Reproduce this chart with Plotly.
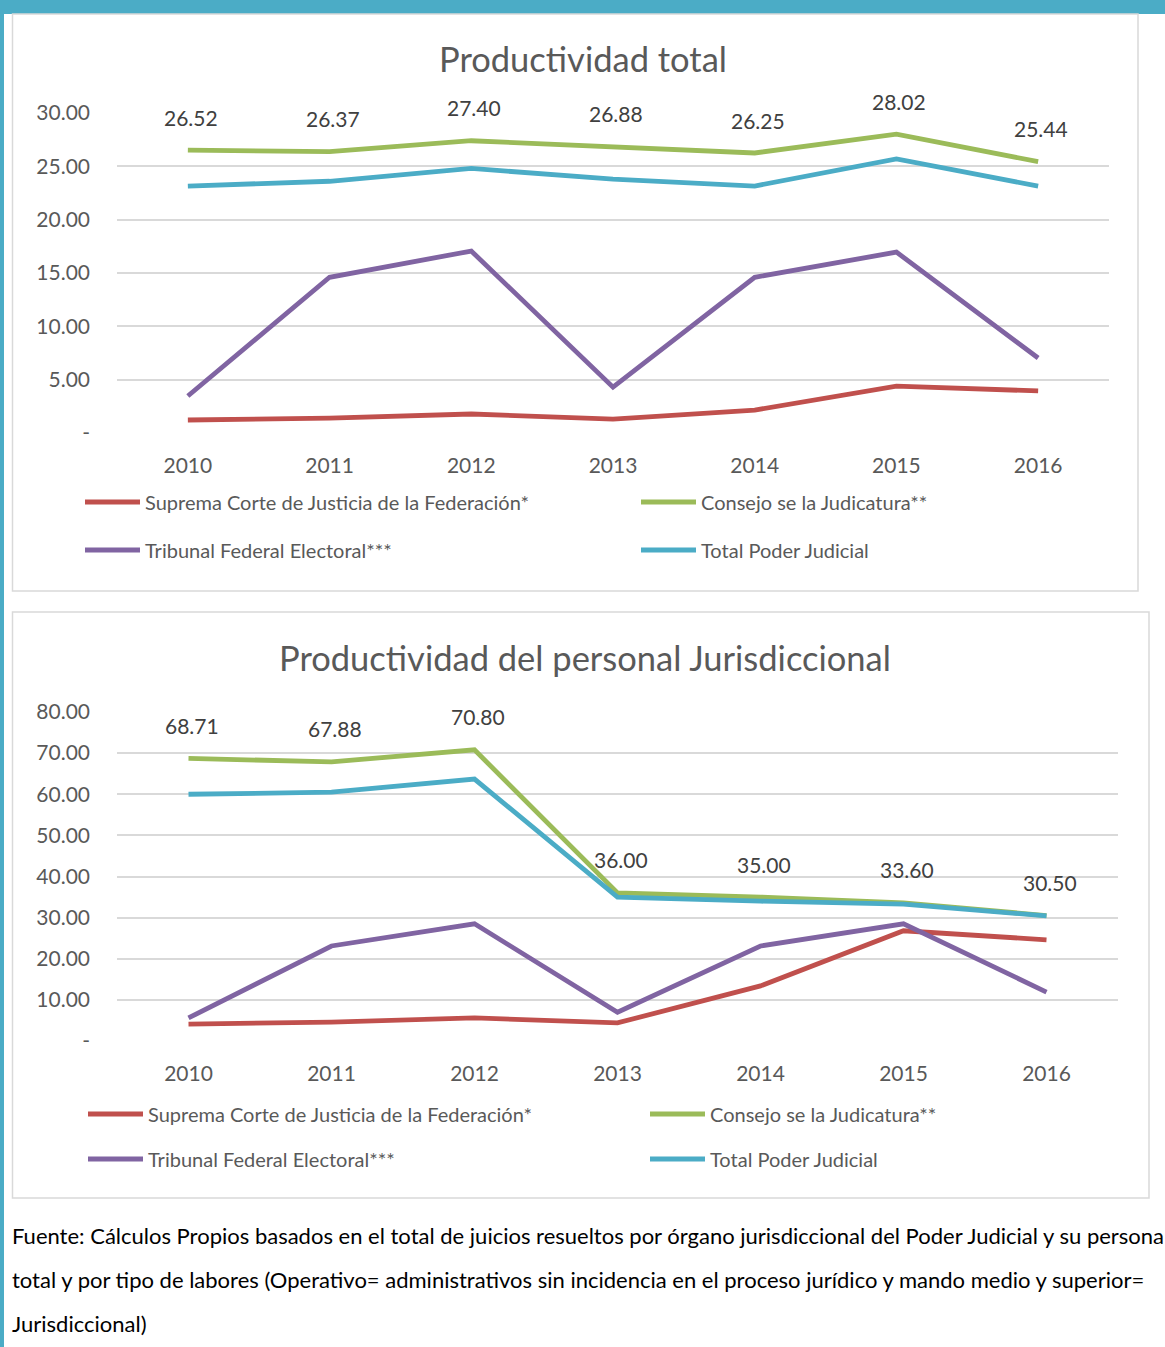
import plotly.graph_objects as go

W, H = 1165, 1347

years = [2010, 2011, 2012, 2013, 2014, 2015, 2016]
series_names = ["Suprema Corte de Justicia de la Federación*",
                "Consejo se la Judicatura**",
                "Tribunal Federal Electoral***",
                "Total Poder Judicial"]
colors = ["#C0504D", "#9BBB59", "#8064A2", "#4BACC6"]

# Chart 1: Productividad total
total_suprema = [1.22, 1.40, 1.78, 1.30, 2.15, 4.40, 3.94]
total_consejo = [26.52, 26.37, 27.40, 26.88, 26.25, 28.02, 25.44]
total_tribunal = [3.47, 14.60, 17.06, 4.30, 14.60, 16.96, 7.03]
total_poder = [23.15, 23.60, 24.80, 23.80, 23.15, 25.70, 23.15]

# Chart 2: Productividad del personal Jurisdiccional
jur_suprema = [4.1, 4.6, 5.6, 4.4, 13.4, 26.8, 24.6]
jur_consejo = [68.71, 67.88, 70.80, 36.00, 35.00, 33.60, 30.50]
jur_tribunal = [5.6, 23.1, 28.5, 7.0, 23.1, 28.5, 11.9]
jur_poder = [60.0, 60.5, 63.7, 35.0, 34.0, 33.3, 30.4]

y1_ticks = [0, 5, 10, 15, 20, 25, 30]
y1_text = ["-", "5.00", "10.00", "15.00", "20.00", "25.00", "30.00"]
y2_ticks = [0, 10, 20, 30, 40, 50, 60, 70, 80]
y2_text = ["-", "10.00", "20.00", "30.00", "40.00", "50.00", "60.00", "70.00", "80.00"]

title1 = "Productividad total"
title2 = "Productividad del personal Jurisdiccional"
source_lines = [
    "Fuente: Cálculos Propios basados en el total de juicios resueltos por órgano jurisdiccional del Poder Judicial y su persona",
    "total y por tipo de labores (Operativo= administrativos sin incidencia en el proceso jurídico y mando medio y superior=",
    "Jurisdiccional)",
]

FONT = "Lato, 'Open Sans', sans-serif"
GREY = "#595959"

def px_x(p):
    return p / W

def px_y(p):
    return 1 - p / H

fig = go.Figure()

chart1 = [total_suprema, total_consejo, total_tribunal, total_poder]
chart2 = [jur_suprema, jur_consejo, jur_tribunal, jur_poder]

# legend positions (legend-left px, row-center px)
leg1_pos = [(80, 502), (636, 502), (80, 550), (636, 550)]
leg2_pos = [(83, 1114), (645, 1114), (83, 1159), (645, 1159)]
LEG_FONT = dict(family=FONT, size=20, color=GREY)

layout_legends = {}
for i, (name, col, vals) in enumerate(zip(series_names, colors, chart1)):
    lname = "legend" if i == 0 else f"legend{i+1}"
    fig.add_trace(go.Scatter(x=years, y=vals, mode="lines", name=name,
                             line=dict(color=col, width=4.8),
                             xaxis="x", yaxis="y", legend=lname, hoverinfo="skip"))
    lx, ly = leg1_pos[i]
    layout_legends[lname] = dict(x=px_x(lx), y=px_y(ly), xanchor="left", yanchor="middle",
                                 bgcolor="rgba(0,0,0,0)", font=LEG_FONT, itemwidth=55)
for i, (name, col, vals) in enumerate(zip(series_names, colors, chart2)):
    lname = f"legend{i+5}"
    fig.add_trace(go.Scatter(x=years, y=vals, mode="lines", name=name,
                             line=dict(color=col, width=4.8),
                             xaxis="x2", yaxis="y2", legend=lname, hoverinfo="skip"))
    lx, ly = leg2_pos[i]
    layout_legends[lname] = dict(x=px_x(lx), y=px_y(ly), xanchor="left", yanchor="middle",
                                 bgcolor="rgba(0,0,0,0)", font=LEG_FONT, itemwidth=55)

LABEL_FONT = dict(family=FONT, size=21, color="#404040")
annotations = []
# data labels on Consejo series
for xv, yv in zip(years, total_consejo):
    annotations.append(dict(x=xv, y=yv, xref="x", yref="y", text=f"{yv:.2f}", showarrow=False,
                            yshift=33, xshift=3, font=LABEL_FONT))
for xv, yv in zip(years, jur_consejo):
    annotations.append(dict(x=xv, y=yv, xref="x2", yref="y2", text=f"{yv:.2f}", showarrow=False,
                            yshift=33, xshift=3, font=LABEL_FONT))
# titles
annotations.append(dict(x=px_x(583), y=px_y(58), xref="paper", yref="paper", text=title1,
                        showarrow=False, xanchor="center", yanchor="middle",
                        font=dict(family=FONT, size=34.5, color=GREY)))
annotations.append(dict(x=px_x(585), y=px_y(657), xref="paper", yref="paper", text=title2,
                        showarrow=False, xanchor="center", yanchor="middle",
                        font=dict(family=FONT, size=34.5, color=GREY)))
# source text
for line, ypx in zip(source_lines, [1235, 1279, 1323]):
    annotations.append(dict(x=px_x(10), y=px_y(ypx), xref="paper", yref="paper", text=line,
                            showarrow=False, xanchor="left", yanchor="middle",
                            font=dict(family=FONT, size=22, color="#000000")))

shapes = [
    # blue top bar and left edge
    dict(type="rect", xref="paper", yref="paper", x0=0, x1=1, y0=px_y(14), y1=1,
         fillcolor="#4BACC6", line=dict(width=0), layer="below"),
    dict(type="rect", xref="paper", yref="paper", x0=0, x1=px_x(4), y0=0, y1=1,
         fillcolor="#4BACC6", line=dict(width=0), layer="below"),
    # panel borders
    dict(type="rect", xref="paper", yref="paper", x0=px_x(12.5), x1=px_x(1138), y0=px_y(591), y1=px_y(14),
         line=dict(color="#D9D9D9", width=1.5), layer="below"),
    dict(type="rect", xref="paper", yref="paper", x0=px_x(12.5), x1=px_x(1149), y0=px_y(1198), y1=px_y(612),
         line=dict(color="#D9D9D9", width=1.5), layer="below"),
]

axis_common = dict(showline=False, zeroline=False, ticks="", fixedrange=True, automargin=False)
TICK_FONT = dict(family=FONT, size=21, color=GREY)

fig.update_layout(
    template="none",
    autosize=False,
    width=W, height=H,
    margin=dict(l=0, r=0, t=0, b=0, pad=0),
    paper_bgcolor="white", plot_bgcolor="white",
    showlegend=True,
    xaxis=dict(domain=[px_x(117), px_x(1109)], range=[2009.5, 2016.5], anchor="y",
               tickvals=years, ticktext=[str(y) for y in years], showgrid=False,
               tickfont=TICK_FONT, ticklabelstandoff=18, **axis_common),
    yaxis=dict(domain=[px_y(433), px_y(113)], range=[0, 30], anchor="x",
               tickvals=y1_ticks, ticktext=y1_text, showgrid=True, gridcolor="#D9D9D9", gridwidth=1.5,
               tickfont=TICK_FONT, ticklabelstandoff=26, **axis_common),
    xaxis2=dict(domain=[px_x(117), px_x(1118)], range=[2009.5, 2016.5], anchor="y2",
                tickvals=years, ticktext=[str(y) for y in years], showgrid=False,
                tickfont=TICK_FONT, ticklabelstandoff=18, **axis_common),
    yaxis2=dict(domain=[px_y(1041), px_y(712)], range=[0, 80], anchor="x2",
                tickvals=y2_ticks, ticktext=y2_text, showgrid=True, gridcolor="#D9D9D9", gridwidth=1.5,
                tickfont=TICK_FONT, ticklabelstandoff=26, **axis_common),
    annotations=annotations,
    shapes=shapes,
    **layout_legends,
)

fig.write_html(
    "out.html",
    config={"displayModeBar": False, "staticPlot": False},
    post_script="document.documentElement.style.margin='0';document.body.style.margin='0';document.body.style.overflow='hidden';",
)
